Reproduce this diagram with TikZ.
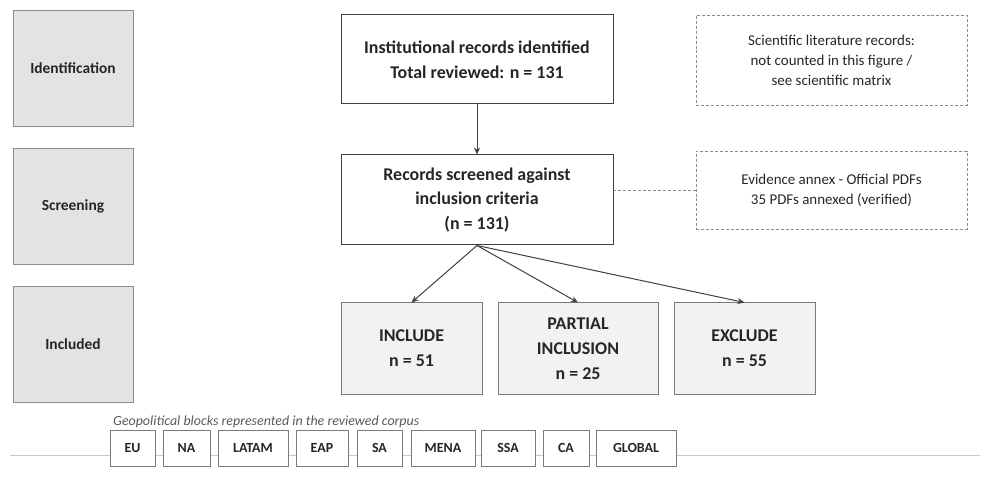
\documentclass[tikz,border=0pt]{standalone}
\usepackage{fontspec}
\setmainfont{Carlito}
\usetikzlibrary{arrows.meta}
\definecolor{txt}{HTML}{262626}
\definecolor{stagefill}{HTML}{E3E3E3}
\definecolor{stagedraw}{HTML}{8C8C8C}
\definecolor{resfill}{HTML}{F2F2F2}
\definecolor{resdraw}{HTML}{7A7A7A}
\definecolor{maindraw}{HTML}{404040}
\definecolor{dashdraw}{HTML}{8C8C8C}
\definecolor{rulegray}{HTML}{C8C8C8}
\definecolor{captxt}{HTML}{595959}
\begin{document}
\begin{tikzpicture}[x=1bp,y=-1bp,
  stagebox/.style={draw=stagedraw, fill=stagefill, line width=0.9bp, minimum width=120bp, minimum height=116bp, inner sep=0pt, text=txt, font=\fontsize{15.5}{19}\selectfont\bfseries},
  mainbox/.style={draw=maindraw, fill=white, line width=1bp, minimum width=272bp, inner sep=0pt, align=center, text=txt, font=\fontsize{18}{25}\selectfont\bfseries},
  resbox/.style={draw=resdraw, fill=resfill, line width=1bp, minimum height=91bp, inner sep=0pt, align=center, text=txt, font=\fontsize{18}{25}\selectfont\bfseries},
  notebox/.style={draw=dashdraw, densely dashed, line width=0.6bp, minimum width=271bp, inner sep=0pt, align=center, text=txt, font=\fontsize{15}{20}\selectfont},
  blockbox/.style={draw=resdraw, fill=white, line width=0.8bp, minimum height=36bp, inner sep=0pt, text=txt, font=\fontsize{14}{16}\selectfont\bfseries},
  flow/.style={draw=maindraw, line width=1bp, -{Stealth[length=7bp,width=6bp]}},
  link/.style={draw=dashdraw, densely dashed, line width=0.6bp}
]
\useasboundingbox (0,0) rectangle (992,477);

% stage labels
\node[stagebox] (idl) at (73,68) {Identification};
\node[stagebox] (scl) at (73,206) {Screening};
\node[stagebox] (inl) at (73,344) {Included};

% main flow
\node[mainbox, minimum height=89bp] (top) at (477,59.5) {Institutional records identified\\Total reviewed: n = 131};
\node[mainbox, minimum height=90bp] (scr) at (477,200) {Records screened against\\inclusion criteria\\(n = 131)};

\node[resbox, minimum width=141bp] (inc) at (411.5,348.5) {INCLUDE\\n = 51};
\node[resbox, minimum width=160bp] (par) at (578,348.5) {PARTIAL\\INCLUSION\\n = 25};
\node[resbox, minimum width=141bp] (exc) at (744.5,348.5) {EXCLUDE\\n = 55};

% notes
\node[notebox, minimum height=90bp] (sci) at (831.5,60) {Scientific literature records:\\not counted in this figure /\\see scientific matrix};
\node[notebox, minimum height=78bp] (evi) at (831.5,190) {Evidence annex - Official PDFs\\35 PDFs annexed (verified)};

% connectors
\draw[flow] (top) -- (scr);
\draw[flow] (scr.south) -- (inc.north);
\draw[flow] (scr.south) -- (par.north);
\draw[flow] (scr.south) -- (exc.north);
\draw[link] (evi.west) -- (evi.west -| scr.east);

% geopolitical blocks
\coordinate (lineL) at (10,455);
\coordinate (lineR) at (980,455);
\draw[draw=rulegray, line width=0.8bp] (lineL) -- (lineR);
\node[anchor=base west, inner sep=0pt, text=captxt, font=\fontsize{14}{16}\selectfont\itshape] (cap) at (113,425) {Geopolitical blocks represented in the reviewed corpus};

\node[blockbox, minimum width=45bp] (eu) at (132.5,448) {EU};
\node[blockbox, minimum width=47bp] (na) at (186.5,448) {NA};
\node[blockbox, minimum width=70bp] (latam) at (253,448) {LATAM};
\node[blockbox, minimum width=52bp] (eap) at (322,448) {EAP};
\node[blockbox, minimum width=45bp] (sa) at (379.5,448) {SA};
\node[blockbox, minimum width=64bp] (mena) at (443,448) {MENA};
\node[blockbox, minimum width=54bp] (ssa) at (508,448) {SSA};
\node[blockbox, minimum width=46bp] (ca) at (566,448) {CA};
\node[blockbox, minimum width=80bp] (global) at (636,448) {GLOBAL};
\end{tikzpicture}
\end{document}
